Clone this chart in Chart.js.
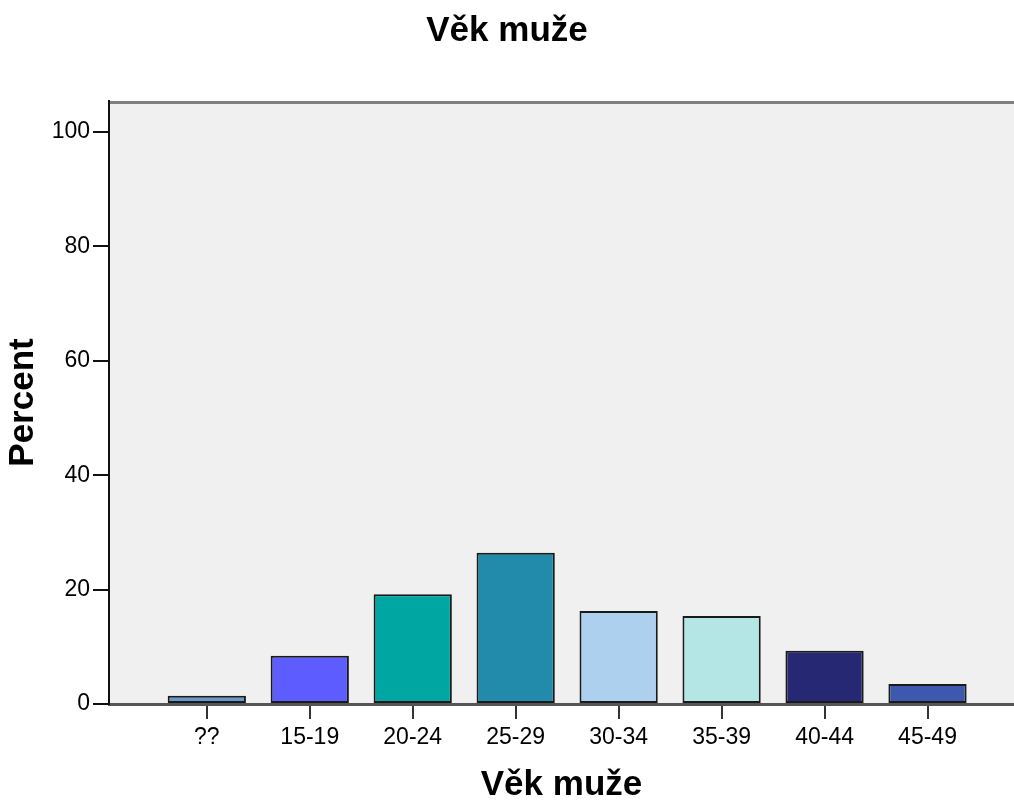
<!DOCTYPE html>
<html>
<head>
<meta charset="utf-8">
<script src="https://cdn.jsdelivr.net/npm/chart.js@4.4.1/dist/chart.umd.min.js"></script>
<style>
  html, body { margin: 0; padding: 0; background: #ffffff; }
  #wrap { width: 1014px; height: 803px; position: relative; }
</style>
</head>
<body>
<div id="wrap"><canvas id="c" width="1014" height="803"></canvas></div>
<script>
const chartTitle = "Věk muže";
const xAxisTitle = "Věk muže";
const yAxisTitle = "Percent";
const categories = ["??", "15-19", "20-24", "25-29", "30-34", "35-39", "40-44", "45-49"];
const percentValues = [1.45, 8.45, 19.2, 26.45, 16.25, 15.4, 9.3, 3.5];
const barColors = ["#6699cc", "#5c5cff", "#00a6a1", "#228aab", "#acd0ee", "#b4e6e6", "#272873", "#3d58ac"];
const yTickStep = 20;

const plotBackground = {
  id: 'plotBackground',
  beforeDraw(chart) {
    const { ctx, chartArea: a } = chart;
    ctx.save();
    ctx.fillStyle = '#f0f0f0';
    ctx.fillRect(a.left, a.top, a.right - a.left, a.bottom - a.top);
    ctx.strokeStyle = '#808080';
    ctx.lineWidth = 3;
    ctx.beginPath();
    ctx.moveTo(a.left, a.top + 1.5);
    ctx.lineTo(a.right, a.top + 1.5);
    ctx.stroke();
    ctx.restore();
  }
};

new Chart(document.getElementById('c'), {
  type: 'bar',
  data: {
    datasets: [{
      data: percentValues.map((v, i) => ({ x: i, y: v })),
      backgroundColor: barColors,
      borderColor: '#1a1a1a',
      borderWidth: 2,
      borderSkipped: false,
      barPercentage: 0.76,
      categoryPercentage: 1.0
    }]
  },
  options: {
    responsive: false,
    animation: false,
    layout: { padding: 0 },
    plugins: {
      legend: { display: false },
      tooltip: { enabled: false },
      title: {
        display: true,
        text: chartTitle,
        color: '#000',
        font: { family: 'Liberation Sans, Arial, sans-serif', size: 35, weight: 'bold', lineHeight: 1.2 },
        padding: { top: 10, bottom: 49 }
      }
    },
    scales: {
      x: {
        type: 'linear',
        min: -0.95,
        max: 7.84,
        offset: false,
        z: 1,
        afterFit(scale) { scale.height = 99; },
        grid: { offset: false, drawOnChartArea: false, drawTicks: true, tickLength: 15, color: '#333', lineWidth: 2 },
        border: { display: true, color: '#555', width: 3 },
        ticks: {
          stepSize: 1,
          includeBounds: false,
          autoSkip: false,
          maxRotation: 0,
          padding: 5,
          color: '#000',
          font: { family: 'Liberation Sans, Arial, sans-serif', size: 23 },
          callback: (v) => Number.isInteger(v) && categories[v] !== undefined ? categories[v] : ''
        },
        title: {
          display: true,
          text: xAxisTitle,
          color: '#000',
          font: { family: 'Liberation Sans, Arial, sans-serif', size: 35, weight: 'bold', lineHeight: 1.0 },
          padding: { top: 0, bottom: 0 }
        }
      },
      y: {
        min: 0,
        max: 105.4,
        afterFit(scale) { scale.width = 109; },
        grid: { drawOnChartArea: false, drawTicks: true, tickLength: 16, color: '#111', lineWidth: 2 },
        border: { display: true, color: '#111', width: 2 },
        ticks: {
          stepSize: yTickStep,
          includeBounds: false,
          padding: 3,
          color: '#000',
          font: { family: 'Liberation Sans, Arial, sans-serif', size: 23 }
        },
        title: {
          display: true,
          text: yAxisTitle,
          color: '#000',
          font: { family: 'Liberation Sans, Arial, sans-serif', size: 35, weight: 'bold', lineHeight: 1.0 },
          padding: { top: 6, bottom: 0 }
        }
      }
    }
  },
  plugins: [plotBackground]
});
</script>
</body>
</html>
